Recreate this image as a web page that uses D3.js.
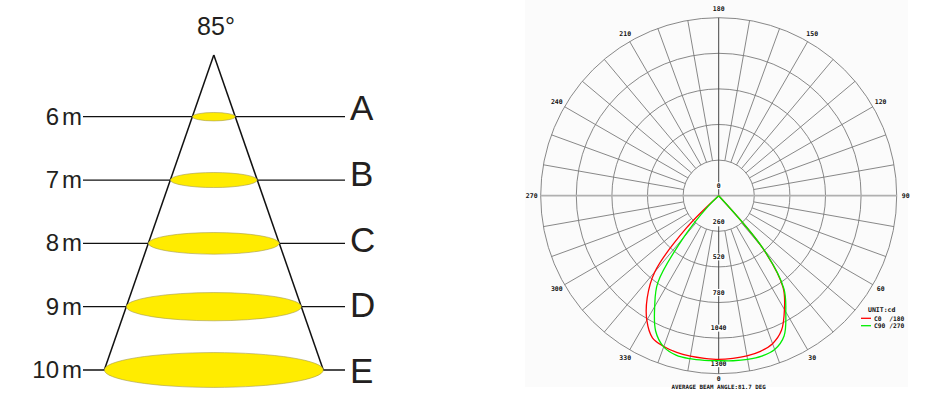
<!DOCTYPE html>
<html><head><meta charset="utf-8">
<script src="https://cdn.jsdelivr.net/npm/d3@7"></script>
<style>body{margin:0;background:#fff}svg{display:block}</style>
</head><body>
<svg id="c" width="947" height="420"></svg>
<script>
// ---------- data: beam spread diagram ----------
const beamAngleLabel = "85°";
const distances = [6, 7, 8, 9, 10];
const distanceUnit = "m";
const zoneLabels = ["A", "B", "C", "D", "E"];

// ---------- data: polar intensity diagram ----------
const ringValues = [0, 260, 520, 780, 1040, 1300];
const angleTicks = [0, 30, 60, 90, 120, 150, 180, 210, 240, 270, 300, 330];
const curveAngles = [0, 5, 10, 15, 20, 25, 30, 35, 40, 45, 50];
const c0   = [1195, 1192, 1188, 1177, 1150, 1085, 960, 820, 500, 0, 0];
const c180 = [1195, 1192, 1190, 1185, 1172, 1145, 1050, 910, 725, 335, 0];
const c90  = [1205, 1210, 1214, 1213, 1195, 1130, 980, 830, 505, 0, 0];
const c270 = [1205, 1207, 1209, 1205, 1175, 1090, 935, 775, 400, 110, 0];
const legendNames = ["C0  /180", "C90 /270"];
const unitLabel = "UNIT:cd";
const footnote = "AVERAGE BEAM ANGLE:81.7 DEG";

const svg = d3.select("#c");

// ================= LEFT: beam cone =================
const L = svg.append("g");
const txtCol = "#231f20";
const cx0 = 213.8, apexY = 55;
const y = d3.scaleLinear().domain([6, 10]).range([116.7, 370]);
const letterY = d3.scaleLinear().domain([6, 10]).range([120, 383]);
const halfW = d3.scaleLinear().domain([apexY, y(10)]).range([0, 109.5]);

L.selectAll("line.h").data(distances).join("line")
  .attr("x1", 83).attr("x2", 345)
  .attr("y1", d => y(d)).attr("y2", d => y(d))
  .attr("stroke", "#111").attr("stroke-width", 1.3);

const bottomY = y(d3.max(distances));
[-1, 1].forEach(s => {
  L.append("line")
    .attr("x1", cx0).attr("y1", apexY)
    .attr("x2", cx0 + s * halfW(bottomY)).attr("y2", bottomY)
    .attr("stroke", "#111").attr("stroke-width", 1.5);
});

L.selectAll("ellipse").data(distances).join("ellipse")
  .attr("cx", cx0).attr("cy", d => y(d))
  .attr("rx", d => halfW(y(d)))
  .attr("ry", d => halfW(y(d)) * 0.15 + 1)
  .attr("fill", "#ffec00").attr("stroke", "#a59a55").attr("stroke-width", 0.6);

const dl = L.selectAll("text.dist").data(distances).join("text")
  .attr("x", 82).attr("y", d => y(d) + 8)
  .attr("text-anchor", "end")
  .attr("font-family", "Liberation Sans, Arial, sans-serif")
  .attr("font-size", 24).attr("fill", txtCol);
dl.append("tspan").text(d => d);
dl.append("tspan").attr("dx", 3).text(distanceUnit);

L.selectAll("text.zone").data(distances).join("text")
  .attr("x", 350).attr("y", d => letterY(d))
  .attr("font-family", "Liberation Sans, Arial, sans-serif")
  .attr("font-size", 35).attr("fill", txtCol)
  .text((d, i) => zoneLabels[i]);

L.append("text").attr("x", 216).attr("y", 35).attr("text-anchor", "middle")
  .attr("font-family", "Liberation Sans, Arial, sans-serif")
  .attr("font-size", 25).attr("fill", txtCol).text(beamAngleLabel);

// ================= RIGHT: polar diagram =================
const P = svg.append("g");
const pcx = 718.7, pcy = 195.7, R = 178;
const r = d3.scaleLinear().domain([0, d3.max(ringValues)]).range([0, R]);
const gridCol = "#7a7a7a";
const mono = "DejaVu Sans Mono, monospace";

P.append("rect").attr("x", 525).attr("y", 0).attr("width", 383).attr("height", 387)
  .attr("fill", "#fbfbfb");

P.selectAll("circle.ring").data(ringValues.slice(1)).join("circle")
  .attr("cx", pcx).attr("cy", pcy).attr("r", d => r(d))
  .attr("fill", "none").attr("stroke", gridCol).attr("stroke-width", 0.9);

const rad = a => a * Math.PI / 180;
const spokes = d3.range(0, 360, 10).filter(a => a % 90 !== 0);
P.selectAll("line.sp").data(spokes).join("line")
  .attr("x1", a => pcx + r(ringValues[1]) * Math.sin(rad(a)))
  .attr("y1", a => pcy + r(ringValues[1]) * Math.cos(rad(a)))
  .attr("x2", a => pcx + R * Math.sin(rad(a)))
  .attr("y2", a => pcy + R * Math.cos(rad(a)))
  .attr("stroke", gridCol).attr("stroke-width", 0.9);

P.append("line").attr("x1", pcx).attr("x2", pcx).attr("y1", pcy - R).attr("y2", pcy)
  .attr("stroke", "#444").attr("stroke-width", 1);
P.append("line").attr("x1", pcx).attr("x2", pcx).attr("y1", pcy + r(ringValues[1]) - 5).attr("y2", pcy + R)
  .attr("stroke", "#444").attr("stroke-width", 1);
P.append("line").attr("x1", pcx - R).attr("x2", pcx + R).attr("y1", pcy).attr("y2", pcy)
  .attr("stroke", "#b0b0b0").attr("stroke-width", 1.8);

const rl = P.selectAll("g.rl").data(ringValues).join("g")
  .attr("transform", d => `translate(${pcx},${pcy + r(d) - 10})`);
rl.append("rect").attr("y", -3.5).attr("height", 7).attr("fill", "#fff")
  .attr("width", d => String(d).length * 4 + 2).attr("x", d => -(String(d).length * 4 + 2) / 2);
rl.append("text").attr("text-anchor", "middle").attr("dy", "0.35em")
  .attr("font-family", mono).attr("font-weight", "bold").attr("font-size", 6.5).attr("fill", "#111")
  .text(d => d);

const angR = a => (a === 0 ? 183 : 187);
P.selectAll("text.ang").data(angleTicks).join("text")
  .attr("x", a => pcx + angR(a) * Math.sin(rad(a)))
  .attr("y", a => pcy + angR(a) * Math.cos(rad(a)))
  .attr("text-anchor", "middle").attr("dy", "0.35em")
  .attr("font-family", mono).attr("font-weight", "bold").attr("font-size", 6.5).attr("fill", "#111")
  .text(a => a);

function curvePts(left, right) {
  const pts = [];
  for (let i = curveAngles.length - 1; i >= 0; i--) pts.push([-curveAngles[i], left[i]]);
  for (let i = 1; i < curveAngles.length; i++) pts.push([curveAngles[i], right[i]]);
  const xy = pts.map(([a, v]) => [pcx + r(v) * Math.sin(rad(a)), pcy + r(v) * Math.cos(rad(a))]);
  return xy.filter((p, i) => i === 0 || Math.hypot(p[0] - xy[i - 1][0], p[1] - xy[i - 1][1]) > 0.01);
}
const lineGen = d3.line().curve(d3.curveCatmullRom.alpha(0.5));
P.append("path").attr("d", lineGen(curvePts(c180, c0)))
  .attr("fill", "none").attr("stroke", "#ff0000").attr("stroke-width", 1.3);
P.append("path").attr("d", lineGen(curvePts(c270, c90)))
  .attr("fill", "none").attr("stroke", "#00ee00").attr("stroke-width", 1.3);

const legendColors = ["#ff0000", "#00ee00"];
P.append("text").attr("x", 868).attr("y", 310).attr("dy", "0.35em")
  .attr("font-family", mono).attr("font-weight", "bold").attr("font-size", 6.5).attr("fill", "#111")
  .text(unitLabel);
legendNames.forEach((n, i) => {
  const ly = 318.3 + i * 7.4;
  P.append("line").attr("x1", 861).attr("x2", 871).attr("y1", ly).attr("y2", ly)
    .attr("stroke", legendColors[i]).attr("stroke-width", 1.3);
  P.append("text").attr("x", 874).attr("y", ly).attr("dy", "0.35em")
    .attr("font-family", mono).attr("font-weight", "bold").attr("font-size", 6.3).attr("fill", "#111")
    .style("white-space", "pre")
    .text(n);
});

P.append("text").attr("x", pcx).attr("y", 387).attr("dy", "0.35em").attr("text-anchor", "middle")
  .attr("font-family", mono).attr("font-weight", "bold").attr("font-size", 5.8).attr("fill", "#111")
  .text(footnote);
</script>
</body></html>
